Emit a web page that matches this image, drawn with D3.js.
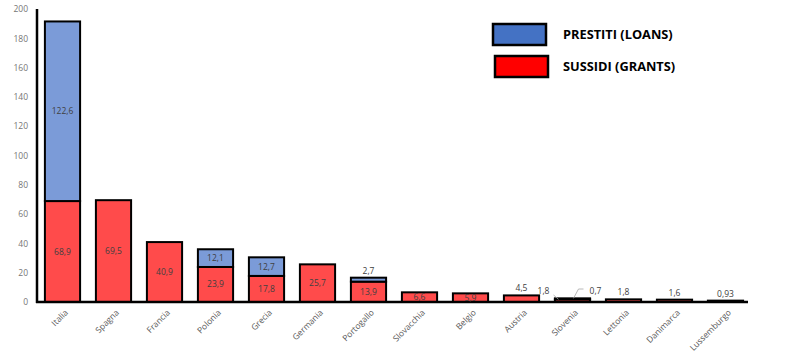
<!DOCTYPE html>
<html><head><meta charset="utf-8">
<script src="https://cdn.jsdelivr.net/npm/d3@7"></script>
<style>body{margin:0;background:#fff}svg{display:block}</style>
</head><body>
<svg id="c" width="793" height="357"></svg>
<script>
const categories = ["Italia","Spagna","Francia","Polonia","Grecia","Germania","Portogallo","Slovacchia","Belgio","Austria","Slovenia","Lettonia","Danimarca","Lussemburgo"];
const grants = [68.9,69.5,40.9,23.9,17.8,25.7,13.9,6.6,5.9,4.5,1.8,1.8,1.6,0.93];
const loans  = [122.6,0,0,12.1,12.7,0,2.7,0,0,0,0.7,0,0,0];
const yTicks = [0,20,40,60,80,100,120,140,160,180,200];
const seriesNames = ["PRESTITI (LOANS)","SUSSIDI (GRANTS)"];

const fmt = v => String(v).replace(".", ",");
const svg = d3.select("#c");
const x = d3.scaleBand().domain(categories).range([37,751]).paddingInner(0.31).paddingOuter(0.155);
const y = d3.scaleLinear().domain([0,200]).range([302,9]);

// y tick labels
const yAxis = d3.axisLeft(y).tickValues(yTicks).tickSize(0).tickPadding(9);
const ya = svg.append("g").attr("transform","translate(37,0)").call(yAxis);
ya.select(".domain").remove();
ya.selectAll("text").attr("font-family","Open Sans, sans-serif").attr("font-size","8.5px").attr("fill","#767676");

const data = categories.map((c,i)=>({c, g:grants[i], l:loans[i]}));

// grants bars
svg.append("g").selectAll("rect").data(data).join("rect")
  .attr("x", d=>x(d.c)).attr("width", x.bandwidth())
  .attr("y", d=>y(d.g)).attr("height", d=>y(0)-y(d.g))
  .attr("fill","#ff4b4b").attr("stroke","#000").attr("stroke-width",2);
// loans bars
svg.append("g").selectAll("rect").data(data.filter(d=>d.l>0)).join("rect")
  .attr("x", d=>x(d.c)).attr("width", x.bandwidth())
  .attr("y", d=>y(d.g+d.l)).attr("height", d=>y(d.g)-y(d.g+d.l))
  .attr("fill","#7b9bd8").attr("stroke","#000").attr("stroke-width",2);

// axes lines
svg.append("line").attr("x1",37).attr("x2",37).attr("y1",9).attr("y2",303).attr("stroke","#000").attr("stroke-width",2.5);
svg.append("line").attr("x1",36).attr("x2",748).attr("y1",302).attr("y2",302).attr("stroke","#000").attr("stroke-width",2.5);

// data labels
const lab = svg.append("g").attr("font-family","Open Sans, sans-serif").attr("font-size","8.5px").attr("fill","#404040").attr("text-anchor","middle");
data.forEach(d=>{
  const cx = x(d.c)+x.bandwidth()/2;
  if (d.c==="Slovenia") {
    const top = y(d.g+d.l);
    lab.append("text").attr("x",cx-29).attr("y",294).text(fmt(d.g));
    lab.append("text").attr("x",cx+23).attr("y",294).text(fmt(d.l));
    svg.append("polyline").attr("points",`${cx-19},295 ${cx-14},${top+1}`).attr("fill","none").attr("stroke","#a6a6a6").attr("stroke-width",0.8);
    svg.append("polyline").attr("points",`${cx+11},289 ${cx+6},289 ${cx+1},${top}`).attr("fill","none").attr("stroke","#a6a6a6").attr("stroke-width",0.8);
    return;
  }
  if (d.g >= 5) {
    lab.append("text").attr("x",cx).attr("y",(y(0)+y(d.g))/2).attr("dy","0.35em").text(fmt(d.g));
  } else if (d.l === 0) {
    lab.append("text").attr("x",cx).attr("y",y(d.g)-4).text(fmt(d.g));
  }
  if (d.l >= 5) {
    lab.append("text").attr("x",cx).attr("y",(y(d.g)+y(d.g+d.l))/2).attr("dy","0.35em").text(fmt(d.l));
  } else if (d.l > 0) {
    lab.append("text").attr("x",cx).attr("y",y(d.g+d.l)-4).text(fmt(d.l));
  }
});

// x labels
svg.append("g").selectAll("text").data(categories).join("text")
  .attr("transform", c=>`translate(${x(c)+x.bandwidth()/2+4},311) rotate(-45)`)
  .attr("text-anchor","end").attr("dy","0.35em")
  .attr("font-family","Open Sans, sans-serif").attr("font-size","8.5px").attr("fill","#595959")
  .text(c=>c);

// legend
const leg = [{n:seriesNames[0], c:"#4472c4", x:493, y:24},{n:seriesNames[1], c:"#ff0000", x:495, y:56}];
leg.forEach(l=>{
  svg.append("rect").attr("x",l.x).attr("y",l.y).attr("width",53).attr("height",21).attr("fill",l.c).attr("stroke","#000").attr("stroke-width",2.5);
  svg.append("text").attr("x",563).attr("y",l.y+15).attr("font-family","Open Sans, sans-serif").attr("font-weight","bold").attr("font-size","12.8px").attr("fill","#000").text(l.n);
});
</script>
</body></html>
